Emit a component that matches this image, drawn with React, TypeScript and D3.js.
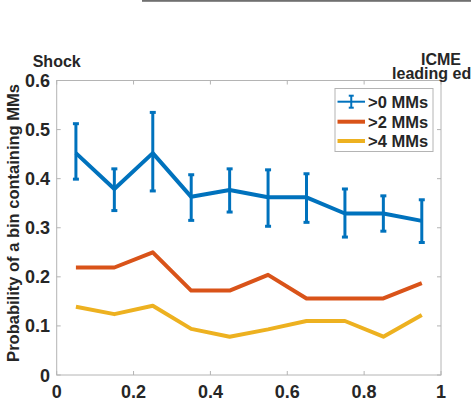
import React from 'react';
import * as d3 from 'd3';

// bin centres across the sheath (0 = shock, 1 = ICME leading edge)
const binCentres = [0.05, 0.15, 0.25, 0.35, 0.45, 0.55, 0.65, 0.75, 0.85, 0.95];

// probability of a bin containing MMs
const anyMMs = [0.452, 0.379, 0.452, 0.363, 0.377, 0.362, 0.362, 0.329, 0.329, 0.314];
const anyMMsLow = [0.399, 0.335, 0.375, 0.315, 0.332, 0.303, 0.311, 0.281, 0.293, 0.27];
const anyMMsHigh = [0.512, 0.42, 0.535, 0.408, 0.42, 0.418, 0.41, 0.379, 0.365, 0.357];
const over2MMs = [0.219, 0.219, 0.25, 0.172, 0.172, 0.204, 0.156, 0.156, 0.156, 0.187];
const over4MMs = [0.139, 0.124, 0.141, 0.094, 0.078, 0.093, 0.11, 0.11, 0.078, 0.122];

const xTicks = [0, 0.2, 0.4, 0.6, 0.8, 1];
const yTicks = [0, 0.1, 0.2, 0.3, 0.4, 0.5, 0.6];
const legendLabels = ['>0 MMs', '>2 MMs', '>4 MMs'];

const BLUE = '#0072BD';
const ORANGE = '#D95319';
const YELLOW = '#EDB120';
const INK = '#262626';
const AXIS = '#b4b4b4';
const FONT = '"Liberation Sans", Arial, Helvetica, sans-serif';

export default function App() {
  const left = 56.7, right = 441, top = 80.5, bottom = 375;
  const x = d3.scaleLinear().domain([0, 1]).range([left, right]);
  const y = d3.scaleLinear().domain([0, 0.6]).range([bottom, top]);

  const line = (vals: number[]) =>
    d3.line<number>().x((_, i) => x(binCentres[i])).y(v => y(v))(vals) || '';

  const tickLen = 4;
  const cap = 3;

  const legend = { x: 335, y: 88.5, w: 98, h: 63 };
  const rowY = [101.7, 121.7, 141];
  const sampleX0 = 337.5, sampleX1 = 365;
  const sampleMid = (sampleX0 + sampleX1) / 2;

  return (
    <svg width={471} height={400} style={{ position: 'absolute', left: 0, top: 0 }} fontFamily={FONT}>
      <rect x={0} y={0} width={471} height={400} fill="#fff" />
      <rect x={142} y={0} width={329} height={1.8} fill="#707070" />

      {/* axes box */}
      <rect x={left} y={top} width={right - left} height={bottom - top} fill="none" stroke={AXIS} strokeWidth={1} />
      {xTicks.map(t => (
        <g key={'x' + t}>
          <line x1={x(t)} x2={x(t)} y1={bottom} y2={bottom - tickLen} stroke={AXIS} />
          <line x1={x(t)} x2={x(t)} y1={top} y2={top + tickLen} stroke={AXIS} />
          <text x={x(t)} y={397.5} textAnchor="middle" fontSize={18} fontWeight="bold" fill={INK}>
            {d3.format('~g')(t)}
          </text>
        </g>
      ))}
      {yTicks.map(t => (
        <g key={'y' + t}>
          <line x1={left} x2={left + tickLen} y1={y(t)} y2={y(t)} stroke={AXIS} />
          <line x1={right} x2={right - tickLen} y1={y(t)} y2={y(t)} stroke={AXIS} />
          <text x={50} y={y(t) + 6.5} textAnchor="end" fontSize={18} fontWeight="bold" fill={INK}>
            {d3.format('~g')(t)}
          </text>
        </g>
      ))}

      <text
        transform={`translate(19,223) rotate(-90)`}
        textAnchor="middle"
        fontSize={16.5}
        fontWeight="bold"
        fill={INK}
      >
        Probability of a bin containing MMs
      </text>

      <text x={x(0)} y={67} textAnchor="middle" fontSize={16} fontWeight="bold" fill={INK}>Shock</text>
      <text x={x(1)} y={65} textAnchor="middle" fontSize={16} fontWeight="bold" fill={INK}>ICME</text>
      <text x={x(1)} y={78.5} textAnchor="middle" fontSize={16} fontWeight="bold" fill={INK}>leading edge</text>

      {/* series */}
      <path d={line(over4MMs)} fill="none" stroke={YELLOW} strokeWidth={4} strokeLinejoin="round" />
      <path d={line(over2MMs)} fill="none" stroke={ORANGE} strokeWidth={4} strokeLinejoin="round" />
      <path d={line(anyMMs)} fill="none" stroke={BLUE} strokeWidth={4} strokeLinejoin="round" />
      {binCentres.map((c, i) => (
        <g key={'e' + i} stroke={BLUE} strokeWidth={3}>
          <line x1={x(c)} x2={x(c)} y1={y(anyMMsLow[i])} y2={y(anyMMsHigh[i])} />
          <line x1={x(c) - cap} x2={x(c) + cap} y1={y(anyMMsLow[i])} y2={y(anyMMsLow[i])} />
          <line x1={x(c) - cap} x2={x(c) + cap} y1={y(anyMMsHigh[i])} y2={y(anyMMsHigh[i])} />
        </g>
      ))}

      {/* legend */}
      <rect x={legend.x} y={legend.y} width={legend.w} height={legend.h} fill="#fff" stroke={AXIS} />
      <g stroke={BLUE} strokeWidth={2}>
        <line x1={sampleX0} x2={sampleX1} y1={rowY[0]} y2={rowY[0]} />
        <line x1={sampleMid} x2={sampleMid} y1={rowY[0] - 6} y2={rowY[0] + 6} />
        <line x1={sampleMid - 2.5} x2={sampleMid + 2.5} y1={rowY[0] - 6} y2={rowY[0] - 6} />
        <line x1={sampleMid - 2.5} x2={sampleMid + 2.5} y1={rowY[0] + 6} y2={rowY[0] + 6} />
      </g>
      <line x1={sampleX0} x2={sampleX1} y1={rowY[1]} y2={rowY[1]} stroke={ORANGE} strokeWidth={4} />
      <line x1={sampleX0} x2={sampleX1} y1={rowY[2]} y2={rowY[2]} stroke={YELLOW} strokeWidth={4} />
      {legendLabels.map((l, i) => (
        <text key={l} x={368} y={rowY[i] + 6} fontSize={16.5} fontWeight="bold" fill={INK}>{l}</text>
      ))}
    </svg>
  );
}
